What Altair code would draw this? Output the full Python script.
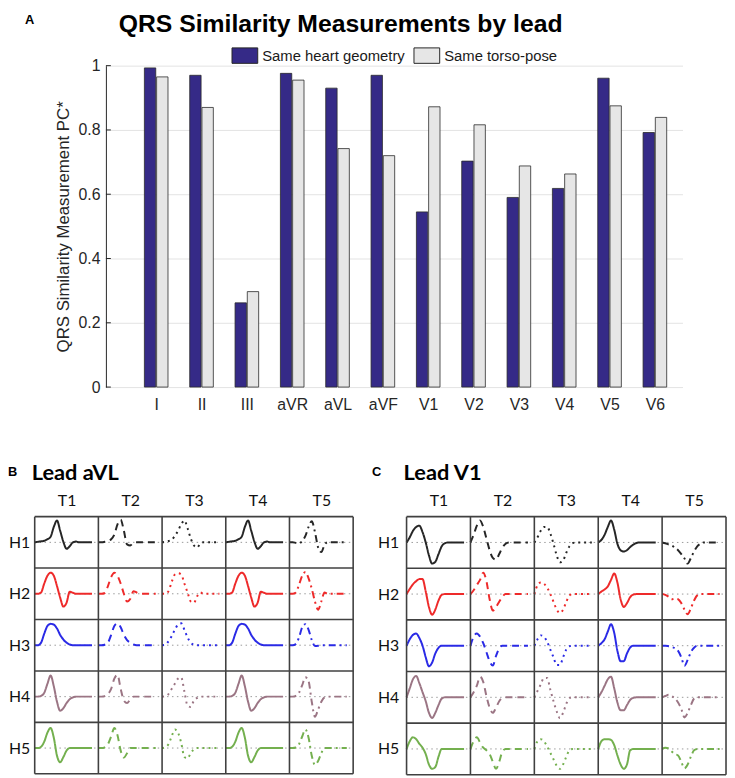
import altair as alt
import pandas as pd

# ---------------- Panel A : bar chart ----------------
leads = ["I", "II", "III", "aVR", "aVL", "aVF", "V1", "V2", "V3", "V4", "V5", "V6"]
same_heart_geometry = [0.993, 0.970, 0.262, 0.976, 0.930, 0.970, 0.545, 0.703, 0.590, 0.618, 0.961, 0.792]
same_torso_pose = [0.965, 0.870, 0.297, 0.955, 0.742, 0.720, 0.872, 0.816, 0.688, 0.663, 0.875, 0.839]
series_names = ["Same heart geometry", "Same torso-pose"]
series_colors = ["#352a87", "#e6e6e6"]
y_ticks = [0, 0.2, 0.4, 0.6, 0.8, 1.0]
title_a = "QRS Similarity Measurements by lead"
y_title_a = "QRS Similarity Measurement PC*"
panel_letters = ["A", "B", "C"]
panel_titles = ["Lead aVL", "Lead V1"]

# ---------------- Panels B / C : waveform grids ----------------
hearts = ["H1", "H2", "H3", "H4", "H5"]
torsos = ["T1", "T2", "T3", "T4", "T5"]
heart_colors = ["#262626", "#ee2a2a", "#2a2ae6", "#9b7584", "#74b04f"]
torso_dashes = [[1, 0], [7, 5], [2, 4], [1, 0], [7, 4, 2, 4]]
wave_t = [0.0, 0.05, 0.1, 0.15, 0.2, 0.25, 0.3, 0.35, 0.4, 0.45, 0.5, 0.55, 0.6, 0.65, 0.7, 0.75, 0.8, 0.85, 0.9]

# Lead aVL (panel B): one list per torso T1..T5 for each heart
avl_h1 = [
    [0, 0.02, 0.04, 0.06, 0.12, 0.22, 0.6, 0.85, 0.45, 0.02, -0.25, -0.15, 0, 0.03, 0, 0, 0, 0, 0],
    [0, 0, 0.02, 0.05, 0.12, 0.3, 0.7, 0.88, 0.45, -0.08, -0.12, -0.02, 0, 0, 0, 0, 0, 0, 0],
    [0, 0.02, 0.05, 0.1, 0.25, 0.45, 0.7, 0.85, 0.55, 0.15, -0.12, -0.2, -0.05, 0, 0, 0, 0, 0, 0],
    [0, 0.02, 0.04, 0.06, 0.12, 0.22, 0.6, 0.85, 0.45, 0.02, -0.25, -0.15, 0, 0.03, 0, 0, 0, 0, 0],
    [0, 0, -0.02, -0.04, 0.05, 0.25, 0.6, 0.82, 0.4, -0.2, -0.38, -0.1, 0, 0, 0, 0, 0, 0, 0],
]
avl_h2 = [
    [0, 0, 0.05, 0.4, 0.7, 0.82, 0.7, 0.3, -0.15, -0.5, -0.35, 0.08, 0.04, 0, 0, 0, 0, 0, 0],
    [0, 0, 0.03, 0.3, 0.65, 0.82, 0.7, 0.4, 0.0, -0.3, -0.2, 0.1, 0.05, 0, 0, 0, 0, 0, 0],
    [0, 0, 0.1, 0.45, 0.75, 0.8, 0.75, 0.4, 0.05, -0.3, -0.35, -0.1, 0.05, 0, 0, 0, 0, 0, 0],
    [0, 0, 0.05, 0.4, 0.7, 0.82, 0.7, 0.3, -0.15, -0.5, -0.35, 0.08, 0.04, 0, 0, 0, 0, 0, 0],
    [0, 0, 0.05, 0.35, 0.7, 0.85, 0.6, 0.2, -0.3, -0.62, -0.3, 0.05, 0, 0, 0, 0, 0, 0, 0],
]
avl_h3 = [
    [0, 0, 0.1, 0.45, 0.75, 0.83, 0.8, 0.65, 0.4, 0.22, 0.1, 0.03, 0, 0, 0, 0, 0, 0, 0],
    [0, 0, 0.02, 0.1, 0.4, 0.75, 0.85, 0.7, 0.4, 0.2, 0.1, 0.03, 0, 0, 0, 0, 0, 0, 0],
    [0, 0.02, 0.15, 0.35, 0.6, 0.8, 0.85, 0.6, 0.3, 0.1, 0.02, 0, 0, 0, 0, 0, 0, 0, 0],
    [0, 0, 0.1, 0.45, 0.75, 0.83, 0.8, 0.65, 0.4, 0.22, 0.1, 0.03, 0, 0, 0, 0, 0, 0, 0],
    [0, 0, 0.05, 0.3, 0.7, 0.82, 0.6, 0.2, -0.03, -0.02, 0, 0, 0, 0, 0, 0, 0, 0, 0],
]
avl_h4 = [
    [0, 0, 0.03, 0.15, 0.5, 0.82, 0.4, -0.2, -0.55, -0.45, -0.25, -0.1, -0.03, 0, 0, 0, 0, 0, 0],
    [0, 0, 0.02, 0.1, 0.3, 0.7, 0.85, 0.3, -0.15, -0.25, -0.1, 0, 0, 0, 0, 0, 0, 0, 0],
    [0, 0.02, 0.1, 0.3, 0.5, 0.7, 0.75, 0.2, -0.35, -0.4, -0.15, -0.05, 0, 0, 0, 0, 0, 0, 0],
    [0, 0, 0.03, 0.15, 0.5, 0.82, 0.4, -0.2, -0.55, -0.45, -0.25, -0.1, -0.03, 0, 0, 0, 0, 0, 0],
    [0, 0, 0.03, 0.15, 0.45, 0.75, 0.6, -0.2, -0.78, -0.5, -0.2, -0.03, 0, 0, 0, 0, 0, 0, 0],
]
avl_h5 = [
    [0, 0, 0.05, 0.25, 0.6, 0.78, 0.4, -0.3, -0.55, -0.35, -0.1, 0, 0, 0, 0, 0, 0, 0, 0],
    [0, 0, 0.03, 0.15, 0.45, 0.78, 0.5, -0.1, -0.37, -0.2, 0, 0, 0, 0, 0, 0, 0, 0, 0],
    [0, 0.03, 0.15, 0.45, 0.72, 0.6, 0.2, -0.35, -0.4, -0.2, -0.05, 0, 0, 0, 0, 0, 0, 0, 0],
    [0, 0, 0.05, 0.25, 0.6, 0.78, 0.4, -0.3, -0.55, -0.35, -0.1, 0, 0, 0, 0, 0, 0, 0, 0],
    [0, 0, 0.02, 0.15, 0.45, 0.72, 0.4, -0.3, -0.65, -0.5, -0.2, 0, 0, 0, 0, 0, 0, 0, 0],
]

# Lead V1 (panel C)
v1_h1 = [
    [0, 0.2, 0.45, 0.6, 0.65, 0.4, 0.0, -0.5, -0.82, -0.75, -0.45, -0.15, -0.03, 0, 0, 0, 0, 0, 0],
    [0, 0.3, 0.65, 0.85, 0.6, 0.15, -0.3, -0.6, -0.67, -0.45, -0.2, -0.05, 0, 0, 0, 0, 0, 0, 0],
    [0, 0.2, 0.45, 0.6, 0.6, 0.35, -0.05, -0.5, -0.77, -0.7, -0.4, -0.15, -0.03, 0, 0, 0, 0, 0, 0],
    [0, 0.1, 0.3, 0.6, 0.85, 0.5, -0.05, -0.3, -0.35, -0.3, -0.18, -0.08, -0.02, 0, 0, 0, 0, 0, 0],
    [0, -0.03, -0.08, -0.12, -0.2, -0.3, -0.45, -0.62, -0.82, -0.6, -0.35, -0.15, -0.05, 0, 0, 0, 0, 0, 0],
]
v1_h2 = [
    [0, 0.2, 0.38, 0.5, 0.58, 0.58, 0.1, -0.5, -0.8, -0.6, -0.25, -0.03, 0, 0, 0, 0, 0, 0, 0],
    [0, 0.15, 0.35, 0.55, 0.83, 0.5, -0.2, -0.64, -0.5, -0.3, -0.1, 0, 0, 0, 0, 0, 0, 0, 0],
    [0, 0.35, 0.45, 0.4, 0.25, 0.0, -0.3, -0.6, -0.73, -0.6, -0.3, -0.05, 0, 0, 0, 0, 0, 0, 0],
    [0, 0.1, 0.18, 0.3, 0.55, 0.8, 0.45, -0.2, -0.5, -0.35, -0.12, -0.02, 0, 0, 0, 0, 0, 0, 0],
    [0, -0.03, -0.1, -0.2, -0.18, -0.2, -0.35, -0.6, -0.78, -0.55, -0.25, -0.05, 0, 0, 0, 0, 0, 0, 0],
]
v1_h3 = [
    [0, 0.25, 0.42, 0.47, 0.3, 0.0, -0.45, -0.8, -0.65, -0.3, -0.08, 0, 0, 0, 0, 0, 0, 0, 0],
    [0, 0.35, 0.47, 0.35, 0.1, -0.25, -0.6, -0.77, -0.4, -0.1, 0, 0, 0, 0, 0, 0, 0, 0, 0],
    [0, 0.25, 0.4, 0.35, 0.15, -0.15, -0.45, -0.75, -0.75, -0.45, -0.15, -0.02, 0, 0, 0, 0, 0, 0, 0],
    [0, 0.1, 0.25, 0.55, 0.83, 0.5, -0.2, -0.6, -0.6, -0.3, -0.07, 0, 0, 0, 0, 0, 0, 0, 0],
    [0, 0, -0.02, -0.05, -0.1, -0.2, -0.45, -0.78, -0.55, -0.25, -0.08, 0, 0, 0, 0, 0, 0, 0, 0],
]
v1_h4 = [
    [0, 0.35, 0.7, 0.83, 0.55, 0.2, -0.15, -0.6, -0.8, -0.6, -0.3, -0.05, 0, 0, 0, 0, 0, 0, 0],
    [0, 0.2, 0.45, 0.8, 0.6, 0.05, -0.4, -0.6, -0.4, -0.15, -0.03, 0, 0, 0, 0, 0, 0, 0, 0],
    [0, 0.25, 0.5, 0.75, 0.75, 0.3, -0.15, -0.55, -0.8, -0.6, -0.25, -0.03, 0, 0, 0, 0, 0, 0, 0],
    [0, 0.2, 0.45, 0.7, 0.8, 0.35, -0.2, -0.5, -0.5, -0.3, -0.1, -0.02, 0, 0, 0, 0, 0, 0, 0],
    [0, 0.05, 0.1, 0.05, -0.05, -0.2, -0.45, -0.78, -0.6, -0.3, -0.05, 0, 0, 0, 0, 0, 0, 0, 0],
]
v1_h5 = [
    [0, 0.3, 0.45, 0.38, 0.2, 0.05, -0.2, -0.6, -0.77, -0.7, -0.3, 0, 0, 0, 0, 0, 0, 0, 0],
    [0, 0.3, 0.45, 0.25, 0.05, -0.05, -0.2, -0.5, -0.77, -0.5, -0.1, 0, 0, 0, 0, 0, 0, 0, 0],
    [0, 0.3, 0.38, 0.3, 0.1, -0.15, -0.4, -0.65, -0.77, -0.6, -0.3, -0.05, 0, 0, 0, 0, 0, 0, 0],
    [0, 0.3, 0.38, 0.38, 0.35, 0.15, -0.25, -0.6, -0.77, -0.6, -0.05, 0, 0, 0, 0, 0, 0, 0, 0],
    [0, 0.05, 0.02, -0.1, -0.2, -0.25, -0.5, -0.75, -0.6, -0.3, -0.05, 0, 0, 0, 0, 0, 0, 0, 0],
]

SANS = "Liberation Sans"
CAL = "Lato"
INK = "#262626"

# ---------------- build panel A ----------------
bar_rows = []
for i, lead in enumerate(leads):
    for s, vals in enumerate([same_heart_geometry, same_torso_pose]):
        bar_rows.append({"lead": lead, "idx": i + 1, "sidx": s, "series": series_names[s], "value": vals[i]})
bars_df = pd.DataFrame(bar_rows)

lead_expr = "[" + ",".join(["''"] + ["'" + l + "'" for l in leads]) + "][datum.value]"
x_scale_a = alt.Scale(domain=[0, len(leads) + 0.5], nice=False, zero=False)
y_scale_a = alt.Scale(domain=[0, 1], nice=False)

x_axis_a = alt.Axis(values=list(range(1, len(leads) + 1)), labelExpr=lead_expr, domain=False, ticks=False,
                    grid=False, title=None, labelFont=SANS, labelFontSize=16, labelColor=INK, labelPadding=10)
y_axis_a = alt.Axis(values=y_ticks, format="~g", grid=True, gridColor="#e3e3e3", gridWidth=1,
                    domain=True, domainColor=INK, domainWidth=1, ticks=False,
                    labelFont=SANS, labelFontSize=16, labelColor=INK, labelPadding=6,
                    title=y_title_a, titleFont=SANS, titleFontSize=17, titleFontWeight="normal",
                    titleColor=INK, titlePadding=6)
legend_a = alt.Legend(title=None, orient="none", legendX=127, legendY=-24, direction="horizontal",
                      columns=2, symbolType="M-1,-0.6H1V0.6H-1Z", symbolSize=676,
                      symbolStrokeColor=INK, symbolStrokeWidth=1, symbolOpacity=1,
                      labelFont=SANS, labelFontSize=15, labelColor="#1a1a1a", labelOffset=4,
                      columnPadding=6, padding=0)

bars = alt.Chart(bars_df).transform_calculate(
    xpos="datum.idx + (datum.sidx - 0.5) * 0.27"
).mark_bar(size=11.5, stroke="#2a2a2a", strokeWidth=0.8).encode(
    x=alt.X("xpos:Q", scale=x_scale_a, axis=x_axis_a),
    y=alt.Y("value:Q", scale=y_scale_a, axis=y_axis_a),
    color=alt.Color("series:N", scale=alt.Scale(domain=series_names, range=series_colors), legend=legend_a),
)
inner_ticks = alt.Chart(pd.DataFrame({"tick": y_ticks})).mark_rule(color=INK, strokeWidth=1).encode(
    y=alt.Y("tick:Q", scale=y_scale_a, axis=y_axis_a), x=alt.value(0), x2=alt.value(5)
)
title_a_mark = alt.Chart(pd.DataFrame({"label": [title_a]})).mark_text(
    align="left", baseline="alphabetic", font=SANS, fontSize=25, fontWeight="bold", color="black"
).encode(text="label:N", x=alt.value(13), y=alt.value(-34))
letter_a_mark = alt.Chart(pd.DataFrame({"label": [panel_letters[0]]})).mark_text(
    align="center", baseline="alphabetic", font=SANS, fontSize=13, fontWeight="bold", color="black"
).encode(text="label:N", x=alt.value(-77), y=alt.value(-42))

chart_a = alt.layer(bars, inner_ticks, title_a_mark, letter_a_mark).properties(width=583, height=325)

spacer = alt.Chart(pd.DataFrame({"s": [0]})).mark_point(opacity=0).encode(
    x=alt.X("s:Q", axis=None), y=alt.Y("s:Q", axis=None)
).properties(width=72, height=10)


# ---------------- build panels B / C ----------------
def wave_panel(rows_data, title, letter, width, height, row_pad, letter_dx, title_dx):
    recs = []
    for r, h in enumerate(hearts):
        for c, tn in enumerate(torsos):
            for t, v in zip(wave_t, rows_data[r][c]):
                recs.append({"heart": h, "torso": tn, "row": r, "col": c, "t": t, "v": v})
    df = pd.DataFrame(recs)
    cells = pd.DataFrame([{"row": r, "col": c} for r in range(len(hearts)) for c in range(len(torsos))])
    nrow = len(hearts)
    xs = alt.Scale(domain=[0, len(torsos)], nice=False, zero=False)
    ys = alt.Scale(domain=[0, 2 * nrow], nice=False, zero=False)
    t_expr = "[" + ",".join("'" + t + "'" for t in torsos) + "][floor(datum.value)]"
    h_expr = "[" + ",".join("'" + h + "'" for h in reversed(hearts)) + "][floor(datum.value / 2)]"
    x_ax = alt.Axis(orient="top", values=[c + 0.5 for c in range(len(torsos))], labelExpr=t_expr,
                    domain=False, ticks=False, grid=False, title=None, labelFont=CAL,
                    labelFontSize=16, labelColor="#111111", labelPadding=8)
    y_ax = alt.Axis(orient="left", values=[2 * r + 1 for r in range(nrow)], labelExpr=h_expr,
                    domain=False, ticks=False, grid=False, title=None, labelFont=CAL,
                    labelFontSize=16, labelColor="#111111", labelPadding=row_pad)

    base = alt.Chart(cells).transform_calculate(
        x0="datum.col", x1="datum.col + 1", yc=f"{2 * nrow - 1} - 2 * datum.row"
    ).mark_rule(color="#9a9a9a", strokeWidth=1, strokeDash=[1.5, 3.5]).encode(
        x=alt.X("x0:Q", scale=xs, axis=x_ax), x2="x1:Q", y=alt.Y("yc:Q", scale=ys, axis=y_ax)
    )
    lines = alt.Chart(df).transform_calculate(
        xp="datum.col + datum.t", yp=f"{2 * nrow - 1} - 2 * datum.row + datum.v"
    ).mark_line(strokeWidth=2, interpolate="monotone", strokeCap="butt").encode(
        x=alt.X("xp:Q", scale=xs, axis=x_ax),
        y=alt.Y("yp:Q", scale=ys, axis=y_ax),
        color=alt.Color("heart:N", scale=alt.Scale(domain=hearts, range=heart_colors), legend=None),
        strokeDash=alt.StrokeDash("torso:N", scale=alt.Scale(domain=torsos, range=torso_dashes), legend=None),
    )
    vgrid = alt.Chart(pd.DataFrame({"g": list(range(len(torsos) + 1))})).mark_rule(
        color="#404040", strokeWidth=1.6).encode(x=alt.X("g:Q", scale=xs, axis=x_ax))
    hgrid = alt.Chart(pd.DataFrame({"g": [2 * r for r in range(nrow + 1)]})).mark_rule(
        color="#404040", strokeWidth=1.6).encode(y=alt.Y("g:Q", scale=ys, axis=y_ax))
    ttl = alt.Chart(pd.DataFrame({"label": [title]})).mark_text(
        align="left", baseline="alphabetic", font=CAL, fontSize=22, fontWeight="bold", color="black"
    ).encode(text="label:N", x=alt.value(title_dx), y=alt.value(-37))
    let = alt.Chart(pd.DataFrame({"label": [letter]})).mark_text(
        align="left", baseline="alphabetic", font=SANS, fontSize=13, fontWeight="bold", color="black"
    ).encode(text="label:N", x=alt.value(letter_dx), y=alt.value(-41))
    return alt.layer(base, lines, vgrid, hgrid, ttl, let).properties(width=width, height=height)


panel_b = wave_panel([avl_h1, avl_h2, avl_h3, avl_h4, avl_h5], panel_titles[0], panel_letters[1],
                     322, 260, 5, -27, -3)
panel_c = wave_panel([v1_h1, v1_h2, v1_h3, v1_h4, v1_h5], panel_titles[1], panel_letters[2],
                     323, 261, 8, -35, -3)

res = dict(x="independent", y="independent", color="independent", strokeDash="independent")
row1 = alt.hconcat(spacer, chart_a, spacing=0, bounds="flush").resolve_scale(**res)
row2 = alt.hconcat(panel_b, panel_c, spacing=54, bounds="flush").resolve_scale(**res)
chart = alt.vconcat(row1, row2, spacing=50, bounds="full").resolve_scale(**res).configure_view(
    strokeWidth=0
).properties(padding=0)

chart.save("out.html", embed_options={"renderer": "svg", "actions": False})
